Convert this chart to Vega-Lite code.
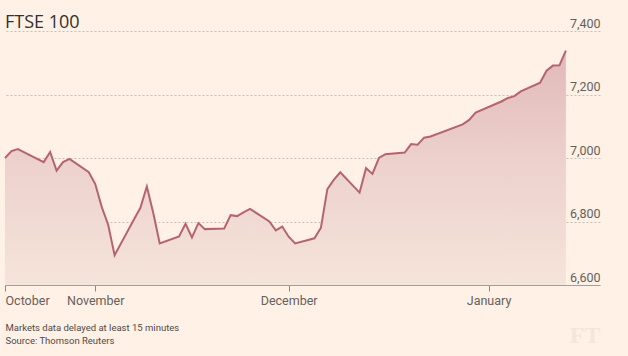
{
  "$schema": "https://vega.github.io/schema/vega-lite/v6.json",
  "autosize": {"type": "none"},
  "padding": {"left": 5, "top": 31, "right": 28, "bottom": 71},
  "width": 595,
  "height": 254,
  "background": "#fff1e5",
  "config": {"view": {"stroke": null}},
  "title": {
    "text": "FTSE 100",
    "anchor": "start",
    "frame": "group",
    "font": "Open Sans",
    "fontSize": 18,
    "fontWeight": "normal",
    "color": "#33302e",
    "baseline": "alphabetic",
    "offset": -29
  },
  "data": {
    "values": [
      {"date": "2016-10-18", "close": 7000},
      {"date": "2016-10-19", "close": 7022},
      {"date": "2016-10-20", "close": 7028},
      {"date": "2016-10-21", "close": 7018},
      {"date": "2016-10-24", "close": 6987},
      {"date": "2016-10-25", "close": 7019},
      {"date": "2016-10-26", "close": 6960},
      {"date": "2016-10-27", "close": 6987},
      {"date": "2016-10-28", "close": 6997},
      {"date": "2016-10-31", "close": 6955},
      {"date": "2016-11-01", "close": 6918},
      {"date": "2016-11-02", "close": 6846},
      {"date": "2016-11-03", "close": 6790},
      {"date": "2016-11-04", "close": 6694},
      {"date": "2016-11-07", "close": 6806},
      {"date": "2016-11-08", "close": 6843},
      {"date": "2016-11-09", "close": 6910},
      {"date": "2016-11-10", "close": 6827},
      {"date": "2016-11-11", "close": 6731},
      {"date": "2016-11-14", "close": 6753},
      {"date": "2016-11-15", "close": 6793},
      {"date": "2016-11-16", "close": 6750},
      {"date": "2016-11-17", "close": 6795},
      {"date": "2016-11-18", "close": 6776},
      {"date": "2016-11-21", "close": 6778},
      {"date": "2016-11-22", "close": 6820},
      {"date": "2016-11-23", "close": 6817},
      {"date": "2016-11-24", "close": 6829},
      {"date": "2016-11-25", "close": 6840},
      {"date": "2016-11-28", "close": 6800},
      {"date": "2016-11-29", "close": 6772},
      {"date": "2016-11-30", "close": 6784},
      {"date": "2016-12-01", "close": 6752},
      {"date": "2016-12-02", "close": 6731},
      {"date": "2016-12-05", "close": 6747},
      {"date": "2016-12-06", "close": 6780},
      {"date": "2016-12-07", "close": 6902},
      {"date": "2016-12-08", "close": 6931},
      {"date": "2016-12-09", "close": 6955},
      {"date": "2016-12-12", "close": 6891},
      {"date": "2016-12-13", "close": 6968},
      {"date": "2016-12-14", "close": 6950},
      {"date": "2016-12-15", "close": 7000},
      {"date": "2016-12-16", "close": 7012},
      {"date": "2016-12-19", "close": 7017},
      {"date": "2016-12-20", "close": 7044},
      {"date": "2016-12-21", "close": 7042},
      {"date": "2016-12-22", "close": 7064},
      {"date": "2016-12-23", "close": 7068},
      {"date": "2016-12-28", "close": 7106},
      {"date": "2016-12-29", "close": 7120},
      {"date": "2016-12-30", "close": 7143},
      {"date": "2017-01-03", "close": 7178},
      {"date": "2017-01-04", "close": 7189},
      {"date": "2017-01-05", "close": 7195},
      {"date": "2017-01-06", "close": 7210},
      {"date": "2017-01-09", "close": 7237},
      {"date": "2017-01-10", "close": 7275},
      {"date": "2017-01-11", "close": 7291},
      {"date": "2017-01-12", "close": 7292},
      {"date": "2017-01-13", "close": 7338}
    ]
  },
  "encoding": {
    "x": {
      "field": "date",
      "type": "temporal",
      "scale": {
        "type": "utc",
        "domain": [
          {"year": 2016, "month": 10, "date": 18, "utc": true},
          {"year": 2017, "month": 1, "date": 18, "hours": 7, "utc": true}
        ]
      },
      "axis": {
        "values": [
          {"year": 2016, "month": 10, "date": 18, "utc": true},
          {"year": 2016, "month": 11, "date": 1, "utc": true},
          {"year": 2016, "month": 12, "date": 1, "utc": true},
          {"year": 2017, "month": 1, "date": 1, "utc": true}
        ],
        "labelExpr": "utcFormat(datum.value, '%B')",
        "labelFlush": true,
        "labelFont": "Roboto",
        "labelFontSize": 12.5,
        "labelColor": "#66605c",
        "labelPadding": 3,
        "grid": false,
        "zindex": 1,
        "domainColor": "#a69d95",
        "domainWidth": 1,
        "tickColor": "#8f867f",
        "tickSize": 6,
        "tickWidth": 1,
        "title": ["Markets data delayed at least 15 minutes", "Source: Thomson Reuters"],
        "titleAnchor": "start",
        "titleAlign": "left",
        "titleFont": "Roboto",
        "titleFontSize": 9.5,
        "titleFontWeight": "normal",
        "titleColor": "#4e4a47",
        "titlePadding": 16,
        "titleLineHeight": 13
      }
    },
    "y": {
      "field": "close",
      "type": "quantitative",
      "scale": {"domain": [6600, 7400], "zero": false},
      "axis": {
        "orient": "right",
        "values": [6600, 6800, 7000, 7200, 7400],
        "format": ",.0f",
        "labelAlign": "right",
        "labelBaseline": "bottom",
        "labelPadding": 0,
        "labelOffset": -1,
        "labelFont": "Roboto",
        "labelFontSize": 12.5,
        "labelColor": "#66605c",
        "ticks": false,
        "tickSize": 0,
        "domain": false,
        "grid": true,
        "gridColor": "#c9bfb6",
        "gridDash": [2, 2],
        "gridWidth": 1,
        "title": "FT",
        "titleAngle": 0,
        "titleX": 0,
        "titleY": 304,
        "titleAlign": "right",
        "titleBaseline": "middle",
        "titleFont": "Liberation Serif",
        "titleFontSize": 24,
        "titleFontWeight": "bold",
        "titleColor": "#f3e6da"
      }
    }
  },
  "layer": [
    {
      "mark": {
        "type": "area",
        "color": {
          "gradient": "linear",
          "x1": 0, "y1": 1, "x2": 0, "y2": 0,
          "stops": [
            {"offset": 0, "color": "#f5e4da"},
            {"offset": 0.5, "color": "#edd2cd"},
            {"offset": 1, "color": "#e1b9b9"}
          ]
        }
      },
      "encoding": {"y2": {"datum": 6600}}
    },
    {
      "mark": {"type": "line", "color": "#b5646e", "strokeWidth": 2}
    }
  ]
}
